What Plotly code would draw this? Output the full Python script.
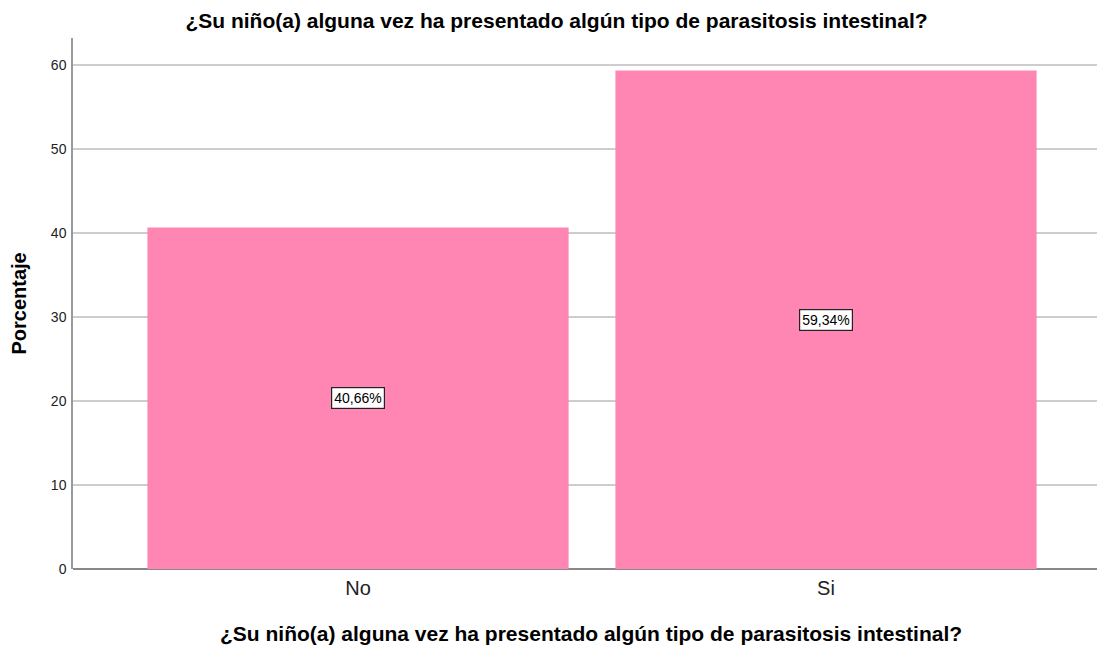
import plotly.graph_objects as go

categories = ["No", "Si"]
values = [40.66, 59.34]
labels = ["40,66%", "59,34%"]
title_text = "¿Su niño(a) alguna vez ha presentado algún tipo de parasitosis intestinal?"
y_title = "Porcentaje"
y_ticks = [0, 10, 20, 30, 40, 50, 60]

FONT = "Liberation Sans, Arial"

fig = go.Figure()
fig.add_trace(go.Bar(
    x=categories, y=values, width=0.9,
    marker=dict(color="#FF85B3", line=dict(width=0)),
    hoverinfo="skip",
))
for c, v, t in zip(categories, values, labels):
    fig.add_annotation(
        x=c, y=v / 2, text=t, showarrow=False,
        font=dict(family=FONT, size=14, color="black"),
        bgcolor="white", bordercolor="#222", borderwidth=1.2, borderpad=2,
    )

# axis titles as annotations for exact placement
fig.add_annotation(
    xref="paper", yref="paper", x=0.502, y=-0.1224, xanchor="center", yanchor="middle",
    text=title_text, showarrow=False,
    font=dict(family=FONT, size=21, color="black", weight="bold"),
)
fig.add_annotation(
    xref="paper", yref="paper", x=-0.0533, y=0.5, xanchor="center", yanchor="middle",
    text=y_title, showarrow=False, textangle=-90,
    font=dict(family=FONT, size=20, color="black", weight="bold"),
)

# page body has an 8px margin: compensate so the plot lands where the reference has it
fig.update_layout(
    width=1097, height=640,
    margin=dict(l=65, r=1, t=30, b=79),
    paper_bgcolor="white", plot_bgcolor="white",
    showlegend=False,
    title=dict(text=title_text, x=0.5, xanchor="center", y=0.981, yanchor="middle",
               font=dict(family=FONT, size=21, color="black", weight="bold")),
    font=dict(family=FONT, color="black"),
)
fig.update_xaxes(
    type="category", range=[-0.609, 1.594],
    tickfont=dict(size=20, color="#222"),
    showline=False, showgrid=False, ticks="", ticklabelstandoff=5,
)
fig.update_yaxes(
    range=[0, 63.2], tickvals=y_ticks,
    tickfont=dict(size=14, color="#222"), ticks="", ticklabelstandoff=2,
    showgrid=True, gridcolor="#cdcdcd", gridwidth=1.5,
    zeroline=True, zerolinecolor="#888888", zerolinewidth=1.5,
    showline=True, linecolor="#999999", linewidth=1.5,
)
fig.write_html("out.html")
